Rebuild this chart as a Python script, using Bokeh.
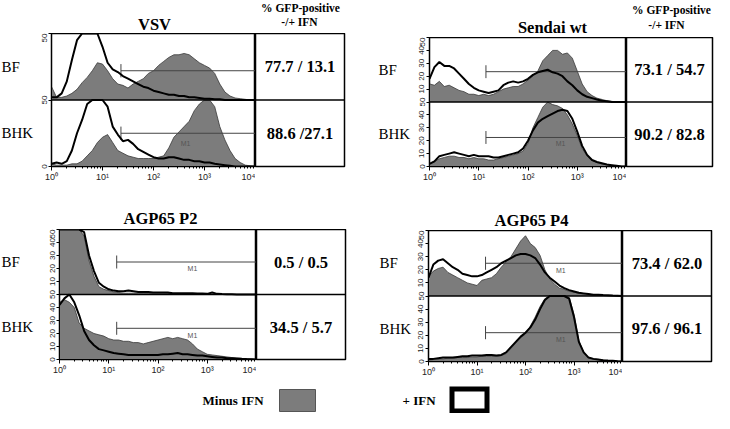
from bokeh.plotting import figure
from bokeh.layouts import row, column
from bokeh.models import Range1d, FixedTicker, Span
from bokeh.core.properties import value
from bokeh.embed import file_html
from bokeh.resources import INLINE

# ---------------- data ----------------
# fluorescence channels: 0.1-decade steps from 10^0 to 10^4
CHANNELS = [10 ** (i / 10) for i in range(41)]

DECADE_TICKS = [1, 10, 100, 1000, 10000]
DECADE_LABELS = ["10⁰", "10¹", "10²", "10³", "10⁴"]
MINOR_TICKS = [m * 10 ** e for e in range(4) for m in range(2, 10)]

PANEL_TITLES = ["VSV", "Sendai wt", "AGP65 P2", "AGP65 P4"]
ROW_NAMES = ["BF", "BHK"]
HEADER_LINES = ["% GFP-positive", "-/+ IFN"]

STATS_BF = ["77.7 / 13.1", "73.1 / 54.7", "0.5 / 0.5", "73.4 / 62.0"]
STATS_BHK = ["88.6 /27.1", "90.2 / 82.8", "34.5 / 5.7", "97.6 / 96.1"]

# counts (0-50 scale); minus = no IFN (grey fill), plus = +IFN (black line)
vsv_bf_minus = [10, 2, 2, 3, 5, 8, 13, 17, 22, 28, 27, 22, 16, 12, 11, 9, 12, 14, 16, 20, 22,
                26, 29, 32, 34, 34, 35, 34, 31, 28, 26, 24, 20, 12, 6, 3, 1.5, 1, 0.5, 0, 0]
vsv_bf_plus = [2, 2, 5, 14, 30, 45, 50, 50, 50, 50, 40, 28, 23, 21, 18, 16, 14, 12, 10, 9, 7,
               6, 5, 4, 4, 3, 3, 2, 2, 1.5, 1, 1, 0.5, 0.5, 0, 0, 0, 0, 0, 0, 0]
vsv_bhk_minus = [2, 1, 1, 1, 2, 2, 4, 8, 12, 18, 22, 24, 18, 12, 10, 8, 7, 6, 6, 6, 6,
                 7, 8, 14, 22, 26, 30, 34, 42, 47, 50, 50, 45, 30, 20, 12, 6, 3, 1, 0.5, 0]
vsv_bhk_plus = [2, 3, 2, 4, 12, 25, 35, 47, 50, 50, 50, 45, 30, 24, 19, 20, 17, 13, 11, 9, 7,
                6, 6, 7, 7, 6, 5, 5, 4, 4, 3, 3, 2, 1.5, 1, 0.5, 0, 0, 0, 0, 0]

sendai_bf_minus = [14, 13, 16, 12, 13, 11, 9, 8, 6, 6, 5, 6, 5, 6, 8, 10, 11, 12, 12, 14, 17,
                   20, 24, 32, 36, 40, 40, 37, 38, 34, 24, 14, 8, 5, 3, 2, 1, 0.5, 0, 0, 0]
sendai_bf_plus = [18, 27, 31, 28, 28, 26, 22, 18, 14, 11, 9, 8, 7, 8, 9, 13, 15, 16, 15, 16, 18,
                  21, 23, 24, 25, 23, 22, 20, 16, 13, 9, 6, 4, 3, 2, 1, 0.5, 0, 0, 0, 0]
sendai_bhk_minus = [2, 4, 6, 7, 8, 8, 7, 7, 6, 7, 6, 6, 5, 5, 6, 7, 8, 9, 10, 12, 18,
                    30, 38, 46, 50, 48, 47, 45, 40, 33, 24, 14, 8, 5, 3, 2, 1.5, 1, 0.5, 0, 0]
sendai_bhk_plus = [2, 4, 8, 9, 10, 11, 10, 9, 8, 9, 8, 8, 8, 7, 7, 8, 9, 10, 11, 14, 20,
                   28, 34, 37, 39, 41, 43, 44, 43, 37, 27, 16, 9, 5, 3.5, 2.5, 1.5, 1, 0.5, 0, 0]

p2_bf_minus = [50, 50, 50, 50, 50, 45, 26, 14, 6, 4, 3, 2, 1.5, 1, 1, 1, 1, 1, 1, 1, 1,
               1, 0.8, 0.8, 0.5, 0.5, 0.5, 0.3, 0.2, 0.2, 0.2, 0.2, 0.1, 0.1, 0.1, 0, 0, 0, 0, 0, 0]
p2_bf_plus = [50, 50, 50, 50, 50, 48, 30, 18, 9, 6, 4, 3, 2.5, 2.5, 3, 2.5, 2, 2, 2, 1.5, 1.5,
              1.5, 1.5, 1, 1, 1, 1, 1, 0.8, 0.8, 0.5, 1.5, 0.5, 0.3, 0.2, 0.2, 0, 0, 0, 0, 0]
p2_bhk_minus = [44, 46, 44, 40, 28, 24, 22, 20, 19, 18, 16, 15, 15, 14, 14, 13, 13, 12, 13, 14, 15,
                16, 17, 16, 17, 16, 15, 12, 8, 6, 4, 3.5, 3, 2.5, 2, 1.5, 1, 0.8, 0.5, 0.3, 0]
p2_bhk_plus = [42, 47, 50, 44, 34, 22, 15, 11, 8, 7, 6, 5, 4.5, 4, 3.5, 3.5, 3.5, 3.5, 3.5, 3.5, 3.5,
               4, 4, 4.5, 5, 4, 4, 3.5, 3, 3, 2.5, 2, 1.5, 1.5, 1, 1, 0.8, 0.5, 0.3, 0.2, 0]

p4_bf_minus = [15, 19, 21, 22, 18, 16, 14, 12, 10, 9, 8, 12, 13, 14, 17, 22, 26, 30, 36, 42, 46,
               40, 37, 31, 20, 13, 9, 6, 5, 3.5, 3, 2, 1.5, 1, 0.8, 0.5, 0.5, 0.3, 0.2, 0, 0]
p4_bf_plus = [14, 24, 27, 28, 25, 22, 20, 17, 16, 15, 15, 16, 18, 20, 22, 25, 27, 29, 31, 32, 32,
              31, 29, 24, 18, 14, 11, 8, 6, 4.5, 3.5, 2.5, 2, 1.5, 1, 1, 0.7, 0.5, 0.3, 0.2, 0]
p4_bhk_minus = [1, 1.5, 2, 2, 2.5, 2.5, 3, 3, 3, 3.5, 3.5, 4, 4, 4, 4, 4.5, 6, 10, 14, 18, 21,
                27, 34, 42, 48, 50, 50, 50, 50, 49, 36, 16, 7, 3, 2, 1.5, 1, 0.7, 0.5, 0.2, 0]
p4_bhk_plus = [2, 2, 2.5, 3, 3, 3, 3.5, 4, 4, 4.5, 4.5, 4.5, 5, 5, 4.5, 5, 7, 11, 15, 19, 22,
               26, 32, 40, 47, 50, 50, 50, 50, 48, 34, 15, 7, 3, 2, 1.5, 1, 0.7, 0.5, 0.2, 0]

# M1 gate markers
M1_START = [23, 14, 14.5, 15]
M1_END = 10000
M1_LEVEL_BF = [22, 23.5, 25, 25]
M1_LEVEL_BHK = [25, 22.5, 24, 22]
M1_LABEL_X = [427, 457, 500, 537]
M1_LABEL_BF = [None, None, 20, 19.5]
M1_LABEL_BHK = [17, 17.7, 18.5, 17]

SERIES = [
    (vsv_bf_minus, vsv_bf_plus, vsv_bhk_minus, vsv_bhk_plus),
    (sendai_bf_minus, sendai_bf_plus, sendai_bhk_minus, sendai_bhk_plus),
    (p2_bf_minus, p2_bf_plus, p2_bhk_minus, p2_bhk_plus),
    (p4_bf_minus, p4_bf_plus, p4_bhk_minus, p4_bhk_plus),
]

Y_TICKS_COARSE = [0, 50, 100]
Y_TICKS_FINE = [0, 10, 20, 30, 40, 50, 60, 70, 80, 90, 100]

# ---------------- style ----------------
GREY = "#7c7c7c"
SERIF = "Liberation Serif"
SANS = "Liberation Sans"


def blank(width, height, y_start=None, y_end=None, bottom=0, right=0):
    p = figure(width=width, height=height,
               x_range=Range1d(0, width),
               y_range=Range1d(height if y_start is None else y_start, 0 if y_end is None else y_end),
               min_border_left=0, min_border_right=right, min_border_top=0,
               min_border_bottom=bottom,
               x_axis_location=None, y_axis_location=None,
               output_backend="svg", toolbar_location=None)
    p.grid.visible = False
    p.outline_line_color = None
    return p


def header(width, height, title, title_xy, hdr_xy=None):
    p = blank(width, height)
    p.text(x=[title_xy[0]], y=[title_xy[1]], text=[title], text_align="center",
           text_baseline="middle", text_font=value(SERIF), text_font_style="bold",
           text_font_size="16.5px", text_color="black")
    if hdr_xy is not None:
        p.text(x=[hdr_xy[0][0], hdr_xy[1][0]], y=[hdr_xy[0][1], hdr_xy[1][1]],
               text=HEADER_LINES, text_align="center", text_baseline="middle",
               text_font=value(SERIF), text_font_style="bold", text_font_size="11.5px",
               text_color="black")
    return p


def labels(width, height, bottom, x):
    p = blank(width, height, y_start=0, y_end=100, bottom=bottom)
    p.text(x=[x, x], y=[75, 25], text=ROW_NAMES, text_align="left", text_baseline="middle",
           text_font=value(SERIF), text_font_size="15px", text_color="black")
    return p


def stats_box(width, height, bottom, right, i):
    p = figure(width=width, height=height, x_range=Range1d(0, 1), y_range=Range1d(0, 100),
               min_border_left=0, min_border_right=right, min_border_top=0,
               min_border_bottom=bottom, x_axis_location=None, y_axis_location=None,
               output_backend="svg", toolbar_location=None)
    p.grid.visible = False
    p.outline_line_color = "black"
    p.outline_line_width = 1.5
    p.add_layout(Span(location=50, dimension="width", line_color="black", line_width=1.5))
    p.text(x=[0.5, 0.5], y=[75, 25], text=[STATS_BF[i], STATS_BHK[i]], text_align="center",
           text_baseline="middle", text_font=value(SERIF), text_font_style="bold",
           text_font_size="16.5px", text_color="black")
    return p


def hist(width, height, left, bottom, i, yticks):
    p = figure(width=width, height=height, x_axis_type="log",
               x_range=Range1d(1, 10000), y_range=Range1d(0, 100),
               min_border_left=left, min_border_right=0, min_border_top=0,
               min_border_bottom=bottom, output_backend="svg", toolbar_location=None)
    p.extra_y_ranges = {"upper": Range1d(-50, 50)}
    p.grid.visible = False
    p.outline_line_color = "black"
    p.outline_line_width = 1.5
    bf_minus, bf_plus, bhk_minus, bhk_plus = SERIES[i]
    for minus, plus, rng, level, lab_y in (
        (bf_minus, bf_plus, "upper", M1_LEVEL_BF[i], M1_LABEL_BF[i]),
        (bhk_minus, bhk_plus, "default", M1_LEVEL_BHK[i], M1_LABEL_BHK[i]),
    ):
        p.varea(x=CHANNELS, y1=0, y2=minus, fill_color=GREY, y_range_name=rng)
        p.line(x=CHANNELS, y=minus, line_color="#3a3a3a", line_width=0.8, y_range_name=rng)
        p.segment(x0=[M1_START[i], M1_START[i]], y0=[level, level - 5],
                  x1=[M1_END, M1_START[i]], y1=[level, level + 5],
                  line_color="#444444", line_width=1, y_range_name=rng)
        if lab_y is not None:
            p.text(x=[M1_LABEL_X[i]], y=[lab_y], text=["M1"], text_align="center",
                   text_baseline="middle", text_font=value(SANS), text_font_size="7px",
                   text_color="#555555", y_range_name=rng)
        p.line(x=CHANNELS, y=plus, line_color="black", line_width=2, y_range_name=rng)
    p.add_layout(Span(location=50, dimension="width", line_color="black", line_width=1.5))

    xa = p.xaxis[0]
    xa.ticker = FixedTicker(ticks=DECADE_TICKS, minor_ticks=MINOR_TICKS)
    xa.major_label_overrides = dict(zip(DECADE_TICKS, DECADE_LABELS))
    xa.major_label_text_font = SANS
    xa.major_label_text_font_size = "9px"
    xa.major_label_text_color = "#222222"
    xa.major_label_standoff = 1
    xa.major_tick_in = 0
    xa.major_tick_out = 4
    xa.minor_tick_in = 0
    xa.minor_tick_out = 2
    xa.axis_line_color = "black"

    ya = p.yaxis[0]
    ya.ticker = FixedTicker(ticks=yticks)
    ya.major_label_overrides = {t: str(t if t <= 50 else t - 50) for t in yticks}
    ya.major_label_orientation = "vertical"
    ya.major_label_text_font = SANS
    ya.major_label_text_font_size = "8px"
    ya.major_label_text_color = "#222222"
    ya.major_label_standoff = 2
    ya.major_tick_in = 0
    ya.major_tick_out = 3
    ya.minor_tick_line_color = None
    ya.axis_line_color = "black"
    return p


def panel(i, widths, box_right, hdr_h, row_h, bottom, label_x, title_xy, hdr_xy, yticks):
    lw, hw, bw = widths
    top = header(lw + hw + bw, hdr_h, PANEL_TITLES[i], title_xy, hdr_xy)
    r = row(labels(lw, row_h, bottom, label_x),
            hist(hw, row_h, 16, bottom, i, yticks),
            stats_box(bw, row_h, bottom, box_right, i))
    return column(top, r)


pA = panel(0, (35, 220, 99), 10, 33, 153, 20, 1, (154, 24), ((300, 7), (299, 21)), Y_TICKS_COARSE)
pB = panel(1, (59, 213, 88), 2, 37, 149, 20, 24, (198, 27), ((317, 9), (312, 24)), Y_TICKS_FINE)
pC = panel(2, (43, 213, 98), 9, 43, 151, 21, 1, (160, 32), None, Y_TICKS_FINE)
pD = panel(3, (58, 210, 92), 3, 44, 150, 19, 25, (177, 34), None, Y_TICKS_FINE)

# legend strip
leg = blank(714, 33)
leg.text(x=[202, 402], y=[20, 20], text=["Minus  IFN", "+ IFN"], text_align="left",
         text_baseline="middle", text_font=value(SERIF), text_font_style="bold",
         text_font_size="13px", text_color="black")
leg.quad(left=[279], right=[315], top=[9], bottom=[31], fill_color=GREY,
         line_color="#555555", line_width=1)
leg.quad(left=[451.5], right=[486.5], top=[8.5], bottom=[30.5], fill_color="white",
         line_color="black", line_width=5, line_join="miter")

layout = column(row(pA, pB), row(pC, pD), leg)

open("out.html", "w").write(file_html(layout, INLINE))
